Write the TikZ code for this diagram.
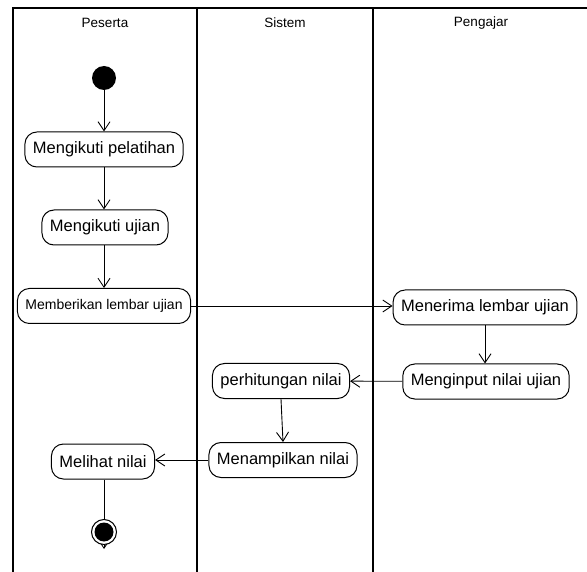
\documentclass[tikz,border=0pt]{standalone}
\usepackage{fontspec}
\setmainfont{Liberation Sans}
\usetikzlibrary{arrows.meta}
\begin{document}
\begin{tikzpicture}[x=1pt,y=-1pt,
  act/.style={draw, rounded corners=12pt, line width=1pt, minimum height=35pt,
              inner xsep=8pt, font=\fontsize{16.5}{18}\selectfont},
  actsmall/.style={act, font=\fontsize{14}{16}\selectfont},
  flow/.style={line width=0.9pt, -{Straight Barb[length=9pt,width=12pt,line width=0.9pt]}},
  lane/.style={line width=1.4pt},
  hdr/.style={font=\fontsize{13.5}{15}\selectfont},
  initial/.style={circle, fill=black, minimum size=24pt, inner sep=0pt},
  final/.style={circle, draw, line width=1pt, fill=white, minimum size=25pt, inner sep=0pt,
                path picture={\fill[black] (path picture bounding box.center) circle (9.5pt);}}]
\useasboundingbox (0,0) rectangle (587,572);

% swimlane frame
\draw[lane] (13,572) -- (13,8) -- (587,8);
\draw[lane] (197,8) -- (197,572);
\draw[lane] (373,8) -- (373,572);

% lane headers
\node[hdr] (hpes) at (105,23) {Peserta};
\node[hdr] (hsis) at (285,23) {Sistem};
\node[hdr] (hpen) at (481,23) {Pengajar};

% activities
\node[initial] (start) at (104,78) {};
\node[act] (pelatihan) at (104,149.5) {Mengikuti pelatihan};
\node[act] (ujian) at (105,227.5) {Mengikuti ujian};
\node[actsmall] (beri) at (104,306) {Memberikan lembar ujian};
\node[act] (terima) at (485,307.5) {Menerima lembar ujian};
\node[act] (input) at (486,381.5) {Menginput nilai ujian};
\node[act] (hitung) at (281,381) {perhitungan nilai};
\node[act] (tampil) at (283,460) {Menampilkan nilai};
\node[act] (lihat) at (103,461.5) {Melihat nilai};
\coordinate (endtip) at (104,549);

% control flow
\draw[flow] (start) -- (pelatihan);
\draw[flow] (pelatihan) -- (ujian.north -| pelatihan);
\draw[flow] (ujian.south -| pelatihan) -- (beri.north -| pelatihan);
\draw[flow] (beri.east) -- (terima.west |- beri.east);
\draw[flow] (terima) -- (input.north -| terima);
\draw[flow] (input) -- (hitung);
\draw[flow] (hitung.south) -- (tampil.north);
\draw[flow] (tampil.west) -- (lihat.east |- tampil.west);
\draw[flow] (lihat.south -| endtip) -- (endtip);

% final node drawn over the last arrow
\node[final] (finish) at (104,532) {};
\end{tikzpicture}
\end{document}
